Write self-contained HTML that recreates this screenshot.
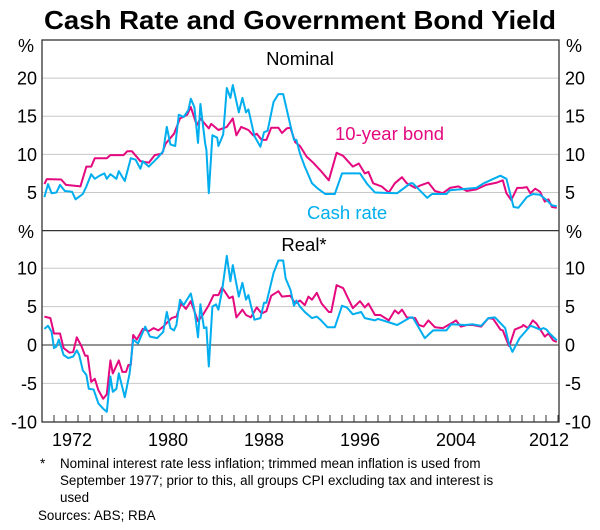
<!DOCTYPE html>
<html><head><meta charset="utf-8"><style>
html,body{margin:0;padding:0;background:#fff;}
svg{display:block;font-family:"Liberation Sans",Arial,sans-serif;}
</style></head><body>
<svg id="chart" width="600" height="530" viewBox="0 0 600 530" xmlns="http://www.w3.org/2000/svg">
<text x="300" y="29" text-anchor="middle" font-size="26" font-weight="bold" fill="#000" textLength="512" lengthAdjust="spacingAndGlyphs">Cash Rate and Government Bond Yield</text>
<g id="grid"></g>
<g id="series"></g>
<g id="axes"></g>
<text x="300" y="65" text-anchor="middle" font-size="18.5">Nominal</text>
<text x="304" y="251" text-anchor="middle" font-size="18.5">Real*</text>
<text x="335" y="140" font-size="18.5" fill="#e5097f">10-year bond</text>
<text x="307" y="219" font-size="18.5" fill="#00aeef">Cash rate</text>
<text x="40" y="468" font-size="13.4">*</text>
<text x="60" y="468" font-size="13.4">Nominal interest rate less inflation; trimmed mean inflation is used from</text>
<text x="60" y="485" font-size="13.4">September 1977; prior to this, all groups CPI excluding tax and interest is</text>
<text x="60" y="502" font-size="13.4">used</text>
<text x="38" y="520" font-size="13.4">Sources: ABS; RBA</text>
</svg>
<script>
const bondNomYears=[1970.2,1970.4,1971.6,1972.0,1973.2,1973.7,1974.1,1974.4,1975.4,1975.7,1976.8,1977.1,1977.5,1978.2,1978.9,1979.4,1980.0,1980.3,1981.0,1981.5,1982.1,1982.4,1982.9,1983.2,1983.9,1984.1,1984.7,1985.4,1985.9,1986.2,1986.6,1987.2,1987.6,1987.9,1988.3,1988.7,1989.1,1989.7,1990.0,1990.4,1990.7,1991.1,1991.5,1992.05,1992.6,1993.2,1993.9,1994.55,1995.1,1995.9,1996.4,1996.9,1997.2,1997.6,1998.3,1998.9,1999.4,2000.0,2000.4,2001.1,2001.5,2002.2,2002.75,2003.4,2004.0,2004.7,2005.4,2006.2,2007.0,2007.9,2008.4,2008.7,2009.1,2009.6,2010.0,2010.4,2010.7,2011.1,2011.5,2011.9,2012.2,2012.5,2012.9];
const bondNomVals=[6.1,6.75,6.7,6.0,5.8,8.4,8.4,9.5,9.5,9.9,9.9,10.4,10.4,9.1,8.9,9.9,10.1,11.4,12.7,14.7,15.2,16.2,13.8,14.7,13.4,14.0,13.2,13.6,14.7,12.5,13.6,13.2,12.5,12.7,11.9,11.9,13.5,13.5,12.8,13.4,13.5,11.6,11.1,9.7,8.9,7.9,6.6,10.2,9.8,8.4,8.8,7.5,7.7,6.2,5.8,5.0,6.2,7.0,6.2,5.6,5.9,6.3,5.2,4.9,5.6,5.8,5.2,5.4,6.0,6.3,6.6,4.9,4.0,5.6,5.6,5.7,4.9,5.5,5.1,3.8,4.1,3.1,3.0];
const cashNomYears=[1970.2,1970.5,1970.8,1971.2,1971.5,1971.9,1972.5,1972.8,1973.4,1973.7,1974.1,1974.4,1974.8,1975.2,1975.4,1975.7,1976.2,1976.4,1976.9,1977.4,1977.8,1978.2,1978.4,1978.9,1979.6,1980.1,1980.4,1980.7,1981.1,1981.4,1981.8,1982.2,1982.4,1982.7,1983.0,1983.2,1983.6,1983.7,1983.9,1984.2,1984.6,1984.7,1985.1,1985.4,1985.7,1985.9,1986.4,1986.7,1987.0,1987.2,1987.7,1988.2,1988.5,1988.8,1989.3,1989.7,1990.1,1990.7,1991.0,1991.2,1991.5,1991.9,1992.5,1993.0,1993.6,1994.4,1995.0,1996.5,1997.1,1997.75,1999.6,2000.7,2000.9,2002.1,2002.5,2003.7,2004.0,2006.2,2006.8,2008.2,2008.7,2009.3,2009.7,2010.4,2010.9,2011.5,2012.05,2012.5,2012.9];
const cashNomVals=[4.4,6.1,4.9,5.0,6.0,5.2,5.1,4.1,4.8,5.8,7.4,6.8,7.2,7.5,6.8,7.4,6.8,7.8,6.5,9.5,9.3,8.1,9.1,8.4,9.5,10.4,13.6,11.3,11.1,15.2,14.9,15.8,17.3,16.2,11.5,16.6,11.4,10.6,4.9,12.5,12.2,11.1,12.6,18.7,17.4,19.1,15.5,17.4,15.5,15.9,12.4,11.0,12.9,13.1,16.9,17.9,17.9,13.8,11.9,11.9,10.1,8.4,6.2,5.5,4.8,4.8,7.5,7.5,6.1,5.0,4.9,6.2,6.2,4.3,4.8,4.8,5.3,5.6,6.2,7.2,6.8,3.1,3.0,4.4,4.8,4.7,4.0,3.3,3.2];
const bondRealYears=[1970.2,1970.7,1971.0,1971.5,1971.8,1972.3,1972.6,1972.9,1973.3,1973.6,1973.8,1974.1,1974.4,1974.7,1975.1,1975.4,1975.7,1975.9,1976.4,1976.7,1977.0,1977.2,1977.4,1977.6,1977.9,1978.4,1978.9,1979.3,1979.7,1980.1,1980.8,1981.2,1981.6,1982.0,1982.4,1983.0,1983.4,1983.9,1984.3,1984.7,1985.0,1985.6,1985.9,1986.2,1986.7,1987.0,1987.4,1987.9,1988.3,1988.7,1989.1,1989.7,1990.0,1990.7,1991.1,1991.5,1991.9,1992.2,1992.5,1992.9,1993.3,1993.9,1994.1,1994.55,1995.1,1995.9,1996.5,1996.9,1997.2,1997.75,1998.2,1998.9,1999.4,1999.7,2000.0,2000.4,2001.1,2001.4,2001.8,2002.2,2002.75,2003.4,2004.3,2004.5,2004.9,2005.4,2005.9,2006.6,2007.2,2007.6,2008.2,2008.4,2008.9,2009.0,2009.4,2010.0,2010.1,2010.5,2010.9,2011.2,2011.9,2012.2,2012.6,2012.9];
const bondRealVals=[3.7,3.5,1.5,1.5,-0.4,-1.0,-0.9,1.0,-0.2,-1.4,-1.4,-4.8,-4.4,-5.9,-7.0,-6.4,-2.0,-3.7,-2.0,-3.5,-3.5,-2.6,-2.6,1.3,0.7,2.1,1.8,2.2,1.9,2.4,3.5,3.7,5.4,4.7,5.7,3.1,3.9,5.2,6.5,6.5,7.5,6.1,6.3,3.6,4.6,3.9,3.6,4.9,4.1,4.4,6.4,7.0,6.3,6.4,5.4,5.8,5.2,6.3,5.9,6.8,5.4,4.3,4.3,7.8,7.4,4.8,5.7,4.9,5.4,3.9,3.9,3.2,4.5,4.1,4.6,3.6,3.5,2.6,2.4,3.2,2.3,2.2,3.0,3.2,2.4,2.6,2.6,2.4,3.5,3.4,2.0,1.9,-0.1,0.1,2.0,2.4,2.6,2.2,3.2,2.8,1.1,1.5,0.6,0.4];
const cashRealYears=[1970.2,1970.5,1970.8,1971.0,1971.2,1971.4,1971.8,1972.2,1972.6,1972.9,1973.1,1973.4,1973.7,1973.9,1974.3,1974.7,1975.1,1975.4,1975.7,1975.9,1976.2,1976.4,1976.9,1977.3,1977.6,1978.0,1978.6,1979.0,1979.6,1980.1,1980.4,1980.7,1981.0,1981.2,1981.5,1981.8,1982.4,1982.7,1983.0,1983.2,1983.5,1983.7,1983.9,1984.2,1984.5,1984.7,1985.0,1985.4,1985.7,1985.9,1986.4,1986.7,1987.0,1987.2,1987.7,1988.2,1988.5,1988.7,1989.3,1989.7,1990.1,1990.3,1990.7,1991.0,1991.2,1991.5,1991.9,1992.5,1992.9,1993.2,1993.8,1994.4,1995.0,1995.4,1995.9,1996.6,1996.9,1997.75,1998.0,1999.6,2000.7,2000.9,2001.9,2002.6,2003.7,2004.1,2005.25,2005.9,2006.6,2007.2,2007.75,2008.6,2008.9,2009.2,2009.8,2010.7,2010.9,2011.5,2011.8,2012.05,2012.3,2012.9];
const cashRealVals=[2.1,2.5,1.7,-0.4,-0.2,0.7,-1.3,-1.7,-1.5,-0.7,-1.3,-3.3,-3.9,-5.7,-5.8,-7.6,-8.3,-8.7,-4.1,-6.1,-5.7,-3.7,-6.8,-3.7,0.7,0.2,2.4,1.1,0.9,1.7,4.3,2.2,1.9,2.6,5.9,5.2,6.7,4.6,1.0,5.3,2.2,2.3,-2.8,5.0,5.3,4.6,7.0,11.6,8.3,10.4,6.3,8.1,5.9,6.5,3.3,3.5,5.5,5.5,9.4,11.0,11.0,8.7,7.2,5.1,5.8,5.0,4.3,3.5,3.7,3.3,2.3,2.3,5.1,4.9,4.0,4.3,3.5,3.2,3.4,2.6,3.6,3.6,0.9,1.9,1.9,2.7,2.6,2.7,2.5,3.5,3.6,2.2,0.2,-0.9,0.9,2.5,2.4,2.0,2.2,2.0,1.5,0.6];
const topTicks=[5,10,15,20];
const botTicks=[-10,-5,0,5,10];
const yearLabels=[1972,1980,1988,1996,2004,2012];

const NS='http://www.w3.org/2000/svg';
const L=42,R=559,T=40,MID=230.6,B=422;
const X0=1970,PXY=12.0;
const FS=18;
function xs(y){return L+(y-X0)*PXY;}
function yTop(v){return MID-(v/25)*(MID-T);}
function yBot(v){return 345-v*7.68;}
function mk(tag,attrs,parent){const e=document.createElementNS(NS,tag);for(const k in attrs)e.setAttribute(k,attrs[k]);parent.appendChild(e);return e;}
const grid=document.getElementById('grid'),axes=document.getElementById('axes'),ser=document.getElementById('series');

topTicks.forEach(v=>{
  const y=yTop(v);
  const g=mk('line',{x1:L,x2:R,y1:y,y2:y,stroke:'#c8c8c8','stroke-width':1},grid);
  
  
  const t1=mk('text',{x:37,y:y+6.5,'text-anchor':'end','font-size':FS},axes);t1.textContent=v;
  
  
  const t2=mk('text',{x:565,y:y+6.5,'font-size':FS},axes);t2.textContent=v;
  
  
});
botTicks.forEach(v=>{
  const y=yBot(v);
  if(v>-10){
    const g=mk('line',{x1:L,x2:R,y1:y,y2:y,stroke:v===0?'#555':'#c8c8c8','stroke-width':v===0?1.3:1},grid);
    
    
  }
  const t1=mk('text',{x:37,y:y+6.5,'text-anchor':'end','font-size':FS},axes);t1.textContent=v;
  
  
  const t2=mk('text',{x:565,y:y+6.5,'font-size':FS},axes);t2.textContent=v;
  
  
});
[[18,52],[18,238],[566,52],[566,238]].forEach(p=>{
  const t=mk('text',{x:p[0],y:p[1],'font-size':FS},axes);t.textContent='%';
  
  
});
for(let yr=1970;yr<=2013;yr++){
  const x=xs(yr);if(x>R)break;
  const tk=mk('line',{x1:x,x2:x,y1:B,y2:B-7,stroke:'#333','stroke-width':1},axes);
  
  
}
yearLabels.forEach(yr=>{
  let x=xs(yr+0.5);if(yr===2012)x-=3;
  const t=mk('text',{x:x,y:446,'text-anchor':'middle','font-size':FS},axes);t.textContent=yr;
  
  
});
const frame=mk('rect',{x:L,y:T,width:R-L,height:B-T,fill:'none',stroke:'#333','stroke-width':1.3},axes);


const div=mk('line',{x1:L,x2:R,y1:MID,y2:MID,stroke:'#333','stroke-width':1.3},axes);



function line(ys,vs,fy,color,name){
  const d=ys.map((y,i)=>(i?'L':'M')+xs(y).toFixed(1)+','+fy(vs[i]).toFixed(1)).join(' ');
  const p=mk('path',{d:d,fill:'none',stroke:color,'stroke-width':2,'stroke-linejoin':'round'},ser);
  
  
}
line(bondNomYears,bondNomVals,yTop,'#e5097f','nominal-bond-line');
line(cashNomYears,cashNomVals,yTop,'#00aeef','nominal-cash-line');
line(bondRealYears,bondRealVals,yBot,'#e5097f','real-bond-line');
line(cashRealYears,cashRealVals,yBot,'#00aeef','real-cash-line');
</script>
</body></html>
